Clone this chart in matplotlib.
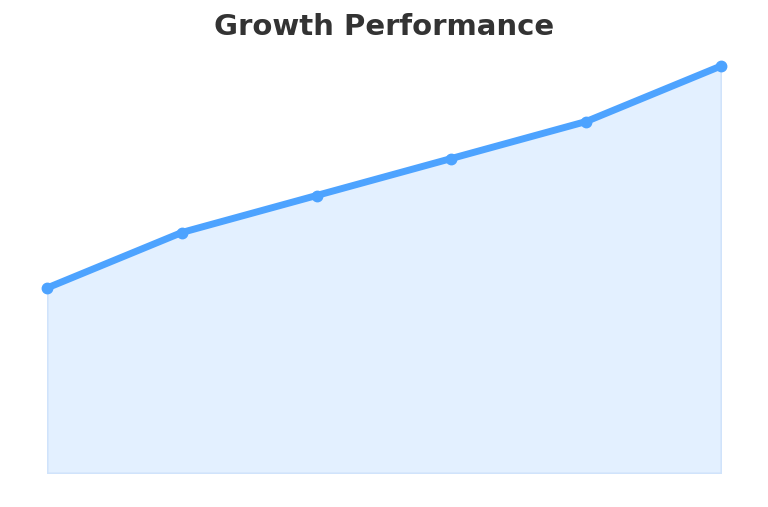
import numpy as np
import matplotlib.pyplot as plt

# data
periods = ["P1", "P2", "P3", "P4", "P5", "P6"]
values = [50, 65, 75, 85, 95, 110]

x = np.arange(len(periods))

fig = plt.figure(figsize=(7.68, 5.07), dpi=100)
ax = fig.add_axes([47 / 768, 34 / 507, 674 / 768, 407 / 507])

ax.fill_between(x, values, 0, facecolor="#e3f0ff", edgecolor="#d0e3fb",
                linewidth=1.5)
ax.plot(x, values, color="#4da3ff", linewidth=5, marker="o", markersize=7.5,
        solid_capstyle="round", clip_on=False, zorder=3)

ax.set_xlim(0, len(periods) - 1)
ax.set_ylim(0, 110)
ax.axis("off")

fig.text(0.5, 1 - 27 / 507, "Growth Performance", ha="center", va="center",
         fontsize=21, fontweight="bold", color="#333333")

fig.savefig("out.png", dpi=100)
